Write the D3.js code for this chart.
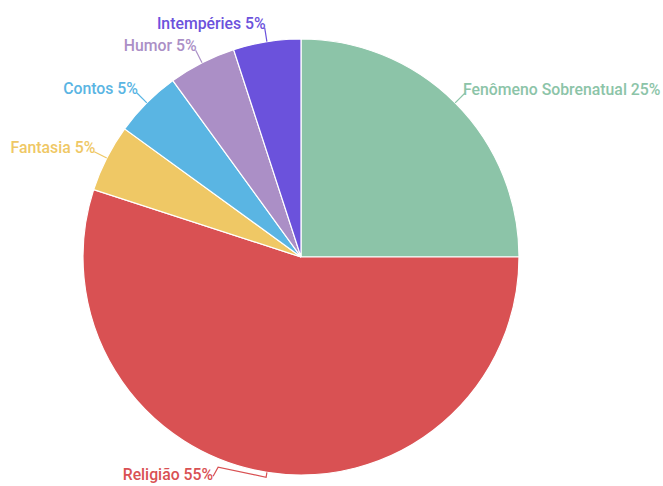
<!DOCTYPE html>
<html>
<head>
<meta charset="utf-8">
<script src="https://cdn.jsdelivr.net/npm/d3@7"></script>
<style>
  html, body { margin: 0; padding: 0; background: #fff; }
  svg { display: block; }
  text { font-family: Roboto, "Noto Sans", sans-serif; font-weight: 500; font-size: 15.8px; }
</style>
</head>
<body>
<svg id="chart" width="663" height="486"></svg>
<script>
const categories = ["Fenômeno Sobrenatual", "Religião", "Fantasia", "Contos", "Humor", "Intempéries"];
const values = [25, 55, 5, 5, 5, 5];
const colors = ["#8cc4a8", "#d95153", "#efc865", "#5ab5e3", "#ab8fc6", "#6b52dc"];

const W = 663, H = 486;
const cx = 301, cy = 257, R = 218;
const svg = d3.select("#chart");
const g = svg.append("g").attr("transform", `translate(${cx},${cy})`);

const data = categories.map((c, i) => ({ name: c, value: values[i], color: colors[i] }));
const pie = d3.pie().value(d => d.value).sort(null);
const arcs = pie(data);
const arc = d3.arc().innerRadius(0).outerRadius(R);

g.selectAll("path.slice").data(arcs).join("path")
  .attr("class", "slice")
  .attr("d", arc)
  .attr("fill", d => d.data.color)
  .attr("stroke", "#fff")
  .attr("stroke-width", 1.2);

const ext = 14;
function pt(a, r) { return [r * Math.sin(a), -r * Math.cos(a)]; }

arcs.forEach(d => {
  const mid = (d.startAngle + d.endAngle) / 2;
  const p0 = pt(mid, R);
  let pts, lab, anchor;
  const right = Math.sin(mid) > 0;
  if (Math.cos(mid) < -0.95) {
    // bottom label pushed inside the frame
    const p1 = pt(mid, R + 5);
    const p2 = [p1[0] - 48, p1[1] - 10];
    const p3 = [p2[0] - 5, p2[1] + 9];
    pts = [p0, p1, p2, p3];
    lab = [p3[0], p3[1] + 4];
    anchor = "end";
  } else {
    const p1 = pt(mid, R + ext);
    pts = [p0, p1];
    lab = [p1[0] + (right ? -2 : 1), p1[1] + (right ? 2 : 1)];
    anchor = right ? "start" : "end";
  }
  g.append("path")
    .attr("d", d3.line()(pts))
    .attr("fill", "none")
    .attr("stroke", "#fff")
    .attr("stroke-width", 3);
  g.append("path")
    .attr("d", d3.line()(pts))
    .attr("fill", "none")
    .attr("stroke", d.data.color)
    .attr("stroke-width", 1.2);
  g.append("text")
    .attr("x", lab[0])
    .attr("y", lab[1])
    .attr("text-anchor", anchor)
    .attr("fill", d.data.color)
    .text(`${d.data.name} ${d.data.value}%`);
});
</script>
</body>
</html>
